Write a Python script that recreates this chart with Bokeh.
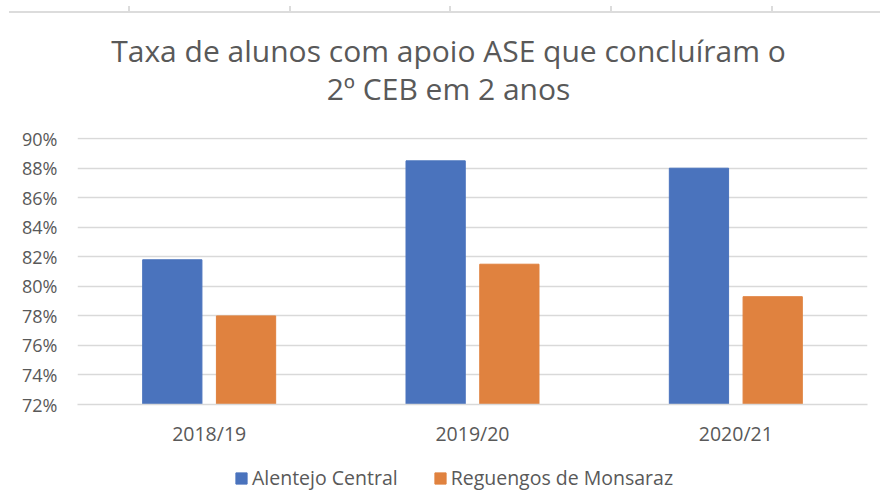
from bokeh.plotting import figure
from bokeh.models import (ColumnDataSource, FactorRange, Range1d, FixedTicker, Div,
                          PrintfTickFormatter, Legend, LegendItem, Label)
from bokeh.transform import dodge
from bokeh.layouts import column
from bokeh.embed import file_html
from bokeh.resources import INLINE

# ---- data ----
years = ["2018/19", "2019/20", "2020/21"]
alentejo_central = [81.8, 88.5, 88.0]
reguengos_monsaraz = [78.0, 81.5, 79.3]
series_names = ["Alentejo Central", "Reguengos de Monsaraz"]
y_ticks = [72, 74, 76, 78, 80, 82, 84, 86, 88, 90]
title_lines = ["Taxa de alunos com apoio ASE que concluíram o", "2º CEB em 2 anos"]

BLUE = "#4A73BD"
ORANGE = "#E0823F"
GRAY_TXT = "#595959"
GRID = "#D9D9D9"
FONT = "Open Sans"
W = 880

# ---- decorative strip at the very top (cut-off edge of a neighbouring chart) ----
strip_ticks_px = [128, 289, 449, 610, 771]
strip_html = ('<div style="position:relative;width:880px;height:13px;">'
              '<div style="position:absolute;left:9px;top:10.5px;width:871px;height:2px;'
              'background:#DCDCDC;"></div>'
              + "".join('<div style="position:absolute;left:%dpx;top:5.5px;width:2px;'
                        'height:6px;background:#DCDCDC;"></div>' % t for t in strip_ticks_px)
              + '</div>')
strip = Div(text=strip_html, width=W, height=13, margin=0)

# ---- title block ----
tfig = figure(width=W, height=110, x_range=Range1d(0, 1), y_range=Range1d(0, 1),
              x_axis_location=None, y_axis_location=None, toolbar_location=None,
              output_backend="svg", min_border=0, outline_line_color=None)
tfig.grid.visible = False
for txt, yy in zip(title_lines, [73, 35]):
    tfig.add_layout(Label(x=371, y=yy, x_units="screen", y_units="screen", text=txt,
                          text_align="center", text_baseline="middle",
                          text_font=FONT, text_font_size="30px", text_color=GRAY_TXT))

# ---- main chart ----
src = ColumnDataSource(dict(year=years, a=alentejo_central, r=reguengos_monsaraz))

p = figure(width=W, height=332, x_range=FactorRange(*years), y_range=Range1d(72, 90.08),
           toolbar_location=None, output_backend="svg",
           min_border_left=77, min_border_right=13, min_border_top=14, min_border_bottom=51,
           outline_line_color=None)

p.vbar(x=dodge("year", -0.14, range=p.x_range), top="a", width=0.225, source=src,
       fill_color=BLUE, line_color=BLUE)
p.vbar(x=dodge("year", 0.14, range=p.x_range), top="r", width=0.225, source=src,
       fill_color=ORANGE, line_color=ORANGE)

p.xgrid.grid_line_color = None
p.ygrid.grid_line_color = GRID
p.ygrid.grid_line_width = 1.5
p.yaxis.ticker = FixedTicker(ticks=y_ticks)
p.yaxis.formatter = PrintfTickFormatter(format="%d%%")
p.yaxis.axis_line_color = None
p.yaxis.major_tick_line_color = None
p.yaxis.major_tick_out = 0
p.yaxis.minor_tick_line_color = None
p.yaxis.major_label_standoff = 20
p.yaxis.major_label_text_font = FONT
p.yaxis.major_label_text_font_size = "18px"
p.yaxis.major_label_text_color = GRAY_TXT

p.xaxis.axis_line_color = GRID
p.xaxis.axis_line_width = 1.5
p.xaxis.major_tick_line_color = None
p.xaxis.major_tick_out = 0
p.xaxis.minor_tick_line_color = None
p.xaxis.major_label_standoff = 15
p.xaxis.major_label_text_font = FONT
p.xaxis.major_label_text_font_size = "19.5px"
p.xaxis.major_label_text_color = GRAY_TXT

# ---- legend row (own small figure; same data, its bars fall outside its range) ----
lg = figure(width=W, height=48, x_range=p.x_range, y_range=Range1d(1000, 1001),
            x_axis_location=None, y_axis_location=None, toolbar_location=None,
            output_backend="svg", min_border=0, outline_line_color=None)
lg.grid.visible = False
lb = lg.vbar(x=dodge("year", -0.14, range=lg.x_range), top="a", width=0.225, source=src,
             fill_color=BLUE, line_color=BLUE)
lo = lg.vbar(x=dodge("year", 0.14, range=lg.x_range), top="r", width=0.225, source=src,
             fill_color=ORANGE, line_color=ORANGE)
legend = Legend(items=[LegendItem(label=series_names[0], renderers=[lb]),
                       LegendItem(label=series_names[1], renderers=[lo])],
                location=(157, 12), orientation="horizontal",
                border_line_color=None, background_fill_alpha=0,
                padding=0, margin=0, spacing=35, label_standoff=4,
                glyph_width=14, glyph_height=14,
                label_text_font=FONT, label_text_font_size="19.5px",
                label_text_color=GRAY_TXT)
lg.add_layout(legend)

layout = column(strip, tfig, p, lg, spacing=0)
open("out.html", "w").write(file_html(layout, INLINE))
